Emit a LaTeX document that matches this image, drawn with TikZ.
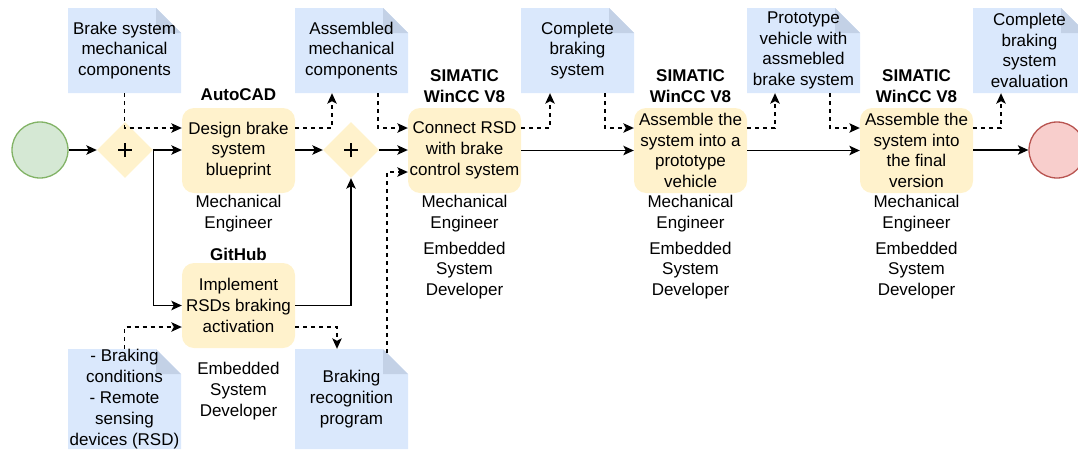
\documentclass[tikz,border=0pt]{standalone}
\usepackage{fontspec}
\setmainfont{Liberation Sans}
\usetikzlibrary{arrows.meta,shapes.geometric}
\definecolor{gfill}{HTML}{D5E8D4}
\definecolor{gline}{HTML}{82B366}
\definecolor{rfill}{HTML}{F8CECC}
\definecolor{rline}{HTML}{B85450}
\definecolor{yfill}{HTML}{FFF2CC}
\definecolor{bfill}{HTML}{DAE8FC}
\definecolor{bfold}{HTML}{C3D1E6}
\begin{document}
\begin{tikzpicture}[x=1pt,y=-1pt,
  every node/.style={font=\fontsize{17}{20.8}\selectfont, align=center, inner sep=0pt},
  task/.style={rectangle, rounded corners=12pt, fill=yfill, minimum width=113pt, minimum height=85pt},
  gate/.style={diamond, fill=yfill, minimum width=56pt, minimum height=56pt,
    path picture={
      \draw[line width=2.3pt] ([xshift=-7pt]path picture bounding box.center) -- ([xshift=7pt]path picture bounding box.center);
      \draw[line width=2.3pt] ([yshift=-7pt]path picture bounding box.center) -- ([yshift=7pt]path picture bounding box.center);
    }},
  doc/.style={rectangle, minimum width=113pt, minimum height=85pt,
    path picture={
      \fill[bfill] (path picture bounding box.south west) -- (path picture bounding box.north west)
        -- ([xshift=-25pt]path picture bounding box.north east) -- ([yshift=-25pt]path picture bounding box.north east)
        -- (path picture bounding box.south east) -- cycle;
      \fill[bfold] ([xshift=-25pt]path picture bounding box.north east) -- ([yshift=-25pt]path picture bounding box.north east)
        -- ([xshift=-25pt,yshift=-25pt]path picture bounding box.north east) -- cycle;
    }},
  tall/.style={minimum height=100pt},
  event/.style={circle, minimum size=56pt, line width=1.3pt},
  tool/.style={font=\fontsize{17}{20.8}\selectfont\bfseries},
  flow/.style={-{Stealth[length=10.5pt,width=9.5pt,inset=2.5pt]}, line width=1.3pt},
  dflow/.style={flow, dash pattern=on 4pt off 4pt}
]
\clip (0,0) rectangle (1078,450);
\useasboundingbox (0,0) rectangle (1078,450);

% events and gateways
\node[event, fill=gfill, draw=gline] (start) at (40,150) {};
\node[gate] (g1) at (125,150) {};
\node[gate] (g2) at (351,150) {};
\node[event, fill=rfill, draw=rline] (end) at (1057,150) {};

% tasks
\node[task] (t1) at (238.5,150.5) {Design brake\\system\\blueprint};
\node[task] (t2) at (464.5,150.5) {Connect RSD\\with brake\\control system};
\node[task] (t3) at (690.5,150.5) {Assemble the\\system into a\\prototype\\vehicle};
\node[task] (t4) at (916.5,150.5) {Assemble the\\system into\\the final\\version};
\node[task] (t5) at (238.5,305.5) {Implement\\RSDs braking\\activation};

% documents
\node[doc] (d1) at (124.5,50.5) {Brake system\\mechanical\\components};
\node[doc] (d2) at (351.5,50.5) {Assembled\\mechanical\\components};
\node[doc] (d3) at (577.5,50.5) {Complete\\braking\\system};
\node[doc] (d4) at (803.5,50.5) {Prototype\\vehicle with\\assmebled\\brake system};
\node[doc] (d5) at (1029.5,50.5) {Complete\\braking\\system\\evaluation};
\node[doc, tall] (d6) at (124.5,399) {- Braking\\conditions\\- Remote\\sensing\\devices (RSD)};
\node[doc, tall] (d7) at (351.5,399) {Braking\\recognition\\program};

% tool labels
\node[tool] (a1) at (238.5,95) {AutoCAD};
\node[tool] (a2) at (464.5,86) {SIMATIC\\WinCC V8};
\node[tool] (a3) at (690.5,86) {SIMATIC\\WinCC V8};
\node[tool] (a4) at (916.5,86) {SIMATIC\\WinCC V8};
\node[tool] (a5) at (238.5,254) {GitHub};

% role labels
\node (r1) at (238.5,213.5) {Mechanical\\Engineer};
\node (r2) at (464.5,213.5) {Mechanical\\Engineer};
\node (r3) at (690.5,213.5) {Mechanical\\Engineer};
\node (r4) at (916.5,213.5) {Mechanical\\Engineer};
\node (e2) at (464.5,270.5) {Embedded\\System\\Developer};
\node (e3) at (690.5,270.5) {Embedded\\System\\Developer};
\node (e4) at (916.5,270.5) {Embedded\\System\\Developer};
\node (e5) at (238.5,391) {Embedded\\System\\Developer};

% sequence flows
\draw[flow] (start) -- (g1);
\draw[flow] (g1.east) -- (t1.west |- g1.east);
\draw[flow] (g1.east) |- (t5.west);
\draw[flow] (t1.east |- g2.west) -- (g2.west);
\draw[flow] (g2.east) -- (t2.west |- g2.east);
\draw[flow] (t5.east) -| (g2.south);
\draw[flow] (t2) -- (t3);
\draw[flow] (t3) -- (t4);
\draw[flow] (t4.east |- end.west) -- (end.west);

% data associations
\draw[dflow] (d1.south) |- ([yshift=22.5pt]t1.west);
\draw[dflow] ([yshift=22.5pt]t1.east) -| ([xshift=-19.5pt]d2.south);
\draw[dflow] ([xshift=26.5pt]d2.south) |- ([yshift=22.5pt]t2.west);
\draw[dflow] ([yshift=22.5pt]t2.east) -| ([xshift=-27.5pt]d3.south);
\draw[dflow] ([xshift=27.5pt]d3.south) |- ([yshift=22.5pt]t3.west);
\draw[dflow] ([yshift=22.5pt]t3.east) -| ([xshift=-28.5pt]d4.south);
\draw[dflow] ([xshift=26.5pt]d4.south) |- ([yshift=22.5pt]t4.west);
\draw[dflow] ([yshift=22.5pt]t4.east) -| ([xshift=-28.5pt]d5.south);
\draw[dflow] (d6.north) |- ([yshift=-21.5pt]t5.west);
\draw[dflow] ([yshift=-21.5pt]t5.east) -| ([xshift=-14.5pt]d7.north);
\draw[dflow] ([xshift=35.5pt,yshift=-4pt]d7.north) |- ([yshift=-21.5pt]t2.west);
\end{tikzpicture}
\end{document}
